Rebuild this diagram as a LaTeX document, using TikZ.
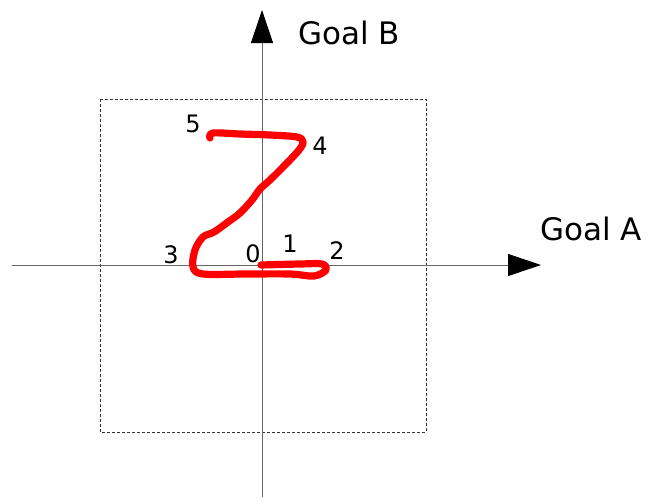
\documentclass[tikz,border=0pt]{standalone}
\usepackage{fontspec}
\setmainfont{DejaVu Sans}
\usetikzlibrary{arrows.meta}

\begin{document}
\begin{tikzpicture}[
    x=1pt, y=-1pt,
    axis/.style      ={draw=black!60, line width=1pt, -{Triangle[length=33pt, width=22pt, color=black, fill=black]}},
    box/.style       ={draw=black!80, line width=0.7pt, dash pattern=on 3pt off 2pt},
    trace/.style     ={draw=red, line width=7.2pt, line cap=round, line join=round},
    goal/.style      ={font=\fontsize{31}{36}\selectfont, inner sep=0pt},
    num/.style       ={font=\fontsize{24}{28}\selectfont, inner sep=0pt}
  ]
    % page frame
    \useasboundingbox (0,0) rectangle (646,498);

    % dashed window
    \draw[box] (100,99) rectangle (426,432);

    % axes
    \coordinate (xlo) at (12,265);
    \coordinate (xhi) at (541,265);
    \coordinate (ylo) at (262,497);
    \coordinate (yhi) at (262,10);
    \draw[axis] (xlo) -- (xhi);
    \draw[axis] (ylo) -- (yhi);
    \node[goal] (goalA) at (591,229) {Goal A};
    \node[goal] (goalB) at (349,33) {Goal B};

    % red trajectory
    \draw[trace] plot[smooth, tension=0.55] coordinates {
      (261,265) (300,264) (322,264) (326,270) (314,276) (290,274)
      (245,274) (203,274) (193,267) (195,250) (203,237) (214,232)
      (228,222) (240,213) (252,200) (260,189) (270,180) (287,163)
      (299,150) (303,142) (297,137) (270,135) (240,134) (213,133)
      (210,138)};

    % step labels
    \node[num] (n0) at (253,254) {0};
    \node[num] (n1) at (290,244) {1};
    \node[num] (n2) at (337,251) {2};
    \node[num] (n3) at (171,255) {3};
    \node[num] (n4) at (320,146) {4};
    \node[num] (n5) at (193,124) {5};
\end{tikzpicture}
\end{document}
